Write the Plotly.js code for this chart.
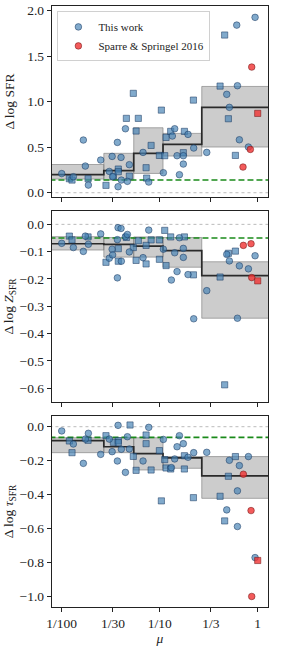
<!DOCTYPE html>
<html><head><meta charset="utf-8">
<script src="https://cdn.plot.ly/plotly-3.0.1.min.js"></script>
<style>html,body{margin:0;padding:0;background:#fff}#chart{width:291px;height:646px}</style>
</head><body><div id="chart"></div>
<script>
// ---------- data ----------
const xTickVals = [0.01, 1/30, 0.1, 1/3, 1];
const xTickText = ["1/100", "1/30", "1/10", "1/3", "1"];

const binEdges = [0.0075, 0.0269, 0.0543, 0.1081, 0.2687, 1.35];

// Panel 1: Delta log SFR
const sfrCircX = [0.0100,0.01315,0.01663,0.01742,0.01871,0.0250,0.0306,0.0327,0.0331,0.0370,0.0376,0.0403,0.0406,0.0447,0.0468,0.0490,0.0676,0.0773,0.109,0.1346,0.1422,0.1503,0.1589,0.1742,0.1742,0.1945,0.2223,0.302,0.483,0.514,0.611,0.621,0.650,0.804,0.940];
const sfrCircY = [0.21,0.176,0.579,0.293,0.084,0.359,0.234,0.399,0.176,0.553,0.066,0.388,0.139,0.703,0.125,0.308,0.443,0.117,0.220,0.623,0.703,0.407,0.198,0.407,0.315,0.641,0.491,0.443,1.081,0.938,1.842,1.176,0.582,0.502,1.927];
const sfrSqX = [0.01197,0.01274,0.01858,0.0283,0.0337,0.0378,0.0378,0.0457,0.0490,0.0538,0.0574,0.0605,0.0726,0.0736,0.0817,0.0993,0.104,0.1125,0.1161,0.1294,0.1786,0.1742,0.2208,0.413,0.460,0.502,0.592];
const sfrSqY = [0.154,0.139,0.154,0.081,0.183,0.260,0.231,0.817,0.183,1.092,0.678,0.817,0.275,0.161,0.520,0.410,0.908,0.407,0.608,0.674,0.674,0.440,1.018,1.172,1.733,0.813,0.410];
const sfrRedCircX = [0.708,0.841,0.869];
const sfrRedCircY = [0.282,0.476,1.381];
const sfrRedSqX = [1.0];
const sfrRedSqY = [0.872];
const sfrMed = [0.198,0.242,0.433,0.532,0.938];
const sfrLo  = [0.150,0.140,0.212,0.403,0.502];
const sfrHi  = [0.310,0.433,0.714,0.652,1.168];

// Panel 2: Delta log Z_SFR
const zCircX = [0.0100,0.01315,0.01663,0.01742,0.01871,0.0250,0.0327,0.0306,0.0331,0.0370,0.0370,0.0376,0.0403,0.0406,0.0447,0.0468,0.0490,0.0676,0.0773,0.109,0.1315,0.1422,0.1503,0.1589,0.1742,0.1742,0.1945,0.2223,0.302,0.483,0.514,0.621,0.650,0.804,0.940];
const zCircY = [-0.0695,-0.085,-0.099,-0.043,-0.073,-0.035,-0.091,-0.124,-0.112,-0.196,-0.056,-0.012,-0.015,-0.135,-0.045,-0.037,-0.101,-0.122,-0.021,-0.091,-0.204,-0.104,-0.173,-0.049,-0.088,-0.121,-0.184,-0.346,-0.243,-0.110,-0.134,-0.344,-0.152,-0.163,-0.115];
const zSqX = [0.01197,0.01274,0.01858,0.0283,0.0378,0.0378,0.0457,0.0605,0.0538,0.0574,0.0726,0.0817,0.0726,0.0993,0.0993,0.1125,0.1161,0.1294,0.1786,0.2208,0.413,0.460,0.502,0.592];
const zSqY = [-0.043,-0.057,-0.046,-0.139,-0.089,-0.135,-0.048,-0.060,-0.085,-0.132,-0.145,-0.057,-0.077,-0.128,-0.057,-0.022,-0.151,-0.046,-0.046,-0.185,-0.193,-0.588,-0.106,-0.098];
const zRedCircX = [0.714,0.855,0.869];
const zRedCircY = [-0.077,-0.071,-0.195];
const zRedSqX = [1.0];
const zRedSqY = [-0.207];
const zMed = [-0.071,-0.073,-0.080,-0.096,-0.188];
const zLo  = [-0.094,-0.120,-0.120,-0.157,-0.344];
const zHi  = [-0.045,-0.048,-0.046,-0.048,-0.137];

// Panel 3: Delta log tau_SFR
const tCircX = [0.0100,0.01315,0.01663,0.01742,0.01871,0.0250,0.0306,0.0327,0.0370,0.0376,0.0406,0.0447,0.0468,0.0490,0.0676,0.0773,0.109,0.1315,0.1422,0.1503,0.1589,0.1742,0.1945,0.2223,0.302,0.483,0.514,0.621,0.621,0.650,0.804,0.940];
const tCircY = [-0.025,-0.102,-0.216,-0.073,-0.039,-0.163,-0.073,-0.147,-0.202,0.008,-0.133,-0.269,-0.059,-0.131,-0.202,-0.004,-0.075,-0.241,-0.190,-0.118,-0.053,-0.100,-0.180,-0.153,-0.151,-0.490,-0.198,-0.378,-0.588,-0.229,-0.176,-0.771];
const tSqX = [0.01197,0.01274,0.01858,0.0283,0.0337,0.0378,0.0378,0.0498,0.0538,0.0574,0.0726,0.0726,0.0817,0.0993,0.104,0.1125,0.1161,0.1294,0.1786,0.1786,0.2208,0.413,0.460,0.502,0.592];
const tSqY = [-0.084,-0.153,-0.080,-0.053,-0.092,-0.082,-0.094,0.010,-0.175,-0.257,-0.049,-0.100,-0.255,-0.141,-0.437,-0.194,-0.243,-0.249,-0.171,-0.249,-0.418,-0.410,-0.555,-0.292,-0.176];
const tRedCircX = [0.714,0.855,0.869];
const tRedCircY = [-0.280,-0.494,-1.0];
const tRedSqX = [1.0];
const tRedSqY = [-0.788];
const tMed = [-0.082,-0.118,-0.159,-0.184,-0.290];
const tLo  = [-0.153,-0.153,-0.255,-0.245,-0.422];
const tHi  = [-0.065,-0.065,-0.065,-0.176,-0.176];

const refLevels = [0.139, -0.050, -0.063];
const seriesNames = ["This work", "Sparre & Springel 2016"];

// ---------- build ----------
const FONT = "Liberation Serif";
const blueFill = "rgba(70,130,180,0.68)", blueLine = "rgba(25,55,95,0.75)";
const redFill = "rgba(240,50,50,0.8)", redLine = "rgba(110,20,20,0.75)";
const traces = [];

function panel(i, cx, cy, sx, sy, rcx, rcy, rsx, rsy, med, lo, hi, ref) {
  const xa = i === 1 ? "x" : "x" + i, ya = i === 1 ? "y" : "y" + i;
  for (let b = 0; b < med.length; b++) {
    const x0 = binEdges[b], x1 = binEdges[b + 1];
    traces.push({x:[x0,x1,x1,x0,x0], y:[lo[b],lo[b],hi[b],hi[b],lo[b]], xaxis:xa, yaxis:ya,
      mode:"lines", fill:"toself", fillcolor:"rgba(128,128,128,0.4)",
      line:{color:"rgba(120,120,120,0.6)", width:1}, showlegend:false, hoverinfo:"skip"});
  }
  traces.push({x:binEdges, y:med.concat([med[med.length-1]]), xaxis:xa, yaxis:ya, mode:"lines",
    line:{shape:"hv", color:"#2a2a2a", width:1.7}, showlegend:false});
  traces.push({x:[binEdges[0], binEdges[binEdges.length-1]], y:[ref, ref], xaxis:xa, yaxis:ya, mode:"lines",
    line:{color:"#1a8a1a", width:1.6, dash:"6px,3px"}, showlegend:false});
  traces.push({x:[binEdges[0], binEdges[binEdges.length-1]], y:[0, 0], xaxis:xa, yaxis:ya, mode:"lines",
    line:{color:"#aaa", width:0.8, dash:"dot"}, showlegend:false});
  const mk = (sym, fill, ln) => ({symbol:sym, size:sym==="square"?6.2:6.6, color:fill, line:{color:ln, width:0.7}});
  traces.push({x:sx, y:sy, xaxis:xa, yaxis:ya, mode:"markers", marker:mk("square", blueFill, blueLine), showlegend:false});
  traces.push({x:cx, y:cy, xaxis:xa, yaxis:ya, mode:"markers", marker:mk("circle", blueFill, blueLine),
    name:seriesNames[0], showlegend:i===1, legendrank:1});
  traces.push({x:rsx, y:rsy, xaxis:xa, yaxis:ya, mode:"markers", marker:mk("square", redFill, redLine), showlegend:false});
  traces.push({x:rcx, y:rcy, xaxis:xa, yaxis:ya, mode:"markers", marker:mk("circle", redFill, redLine),
    name:seriesNames[1], showlegend:i===1, legendrank:2});
}
panel(1, sfrCircX, sfrCircY, sfrSqX, sfrSqY, sfrRedCircX, sfrRedCircY, sfrRedSqX, sfrRedSqY, sfrMed, sfrLo, sfrHi, refLevels[0]);
panel(2, zCircX, zCircY, zSqX, zSqY, zRedCircX, zRedCircY, zRedSqX, zRedSqY, zMed, zLo, zHi, refLevels[1]);
panel(3, tCircX, tCircY, tSqX, tSqY, tRedCircX, tRedCircY, tRedSqX, tRedSqY, tMed, tLo, tHi, refLevels[2]);

const TF = {family:FONT, size:13.5, color:"#222"};
const axBase = {showline:true, mirror:true, linecolor:"#222", linewidth:1.2, ticks:"outside", ticklen:4,
  tickwidth:1, tickcolor:"#222", showgrid:false, zeroline:false, tickfont:TF};
const xBase = Object.assign({}, axBase, {type:"log", range:[-2.099, 0.105], tickvals:xTickVals, ticktext:xTickText});
const titleFont = {family:FONT, size:13.5, color:"#222"};

const layout = {
  width:291, height:646, margin:{l:52, r:23, t:6, b:39},
  paper_bgcolor:"#fff", plot_bgcolor:"#fff", font:{family:FONT, size:11, color:"#222"},
  showlegend:true,
  legend:{x:0.025, y:0.991, xanchor:"left", yanchor:"top", bgcolor:"rgba(255,255,255,0.85)",
    bordercolor:"#d0d0d0", borderwidth:1, font:{family:FONT, size:11, color:"#222"}, tracegroupgap:0,
    itemwidth:30},
  xaxis: Object.assign({}, xBase, {domain:[0,1], anchor:"y", showticklabels:false}),
  xaxis2: Object.assign({}, xBase, {domain:[0,1], anchor:"y2", showticklabels:false, matches:"x"}),
  xaxis3: Object.assign({}, xBase, {domain:[0,1], anchor:"y3", matches:"x",
    title:{text:"<i>μ</i>", font:titleFont, standoff:6}}),
  yaxis: Object.assign({}, axBase, {domain:[0.6822,1], range:[-0.047, 2.052], tickvals:[0,0.5,1,1.5,2], tickformat:".1f",
    title:{text:"Δ log SFR", font:titleFont, standoff:9}}),
  yaxis2: Object.assign({}, axBase, {domain:[0.3411,0.6589], range:[-0.651, 0.049], dtick:0.1, tickformat:".1f",
    title:{text:"Δ log <i>Z</i><sub>SFR</sub>", font:titleFont, standoff:2}}),
  yaxis3: Object.assign({}, axBase, {domain:[0,0.3178], range:[-1.062, 0.063], dtick:0.2, tickformat:".1f",
    title:{text:"Δ log <i>τ</i><sub>SFR</sub>", font:titleFont, standoff:2}})
};
Plotly.newPlot("chart", traces, layout, {staticPlot:true, displayModeBar:false});
</script></body></html>
